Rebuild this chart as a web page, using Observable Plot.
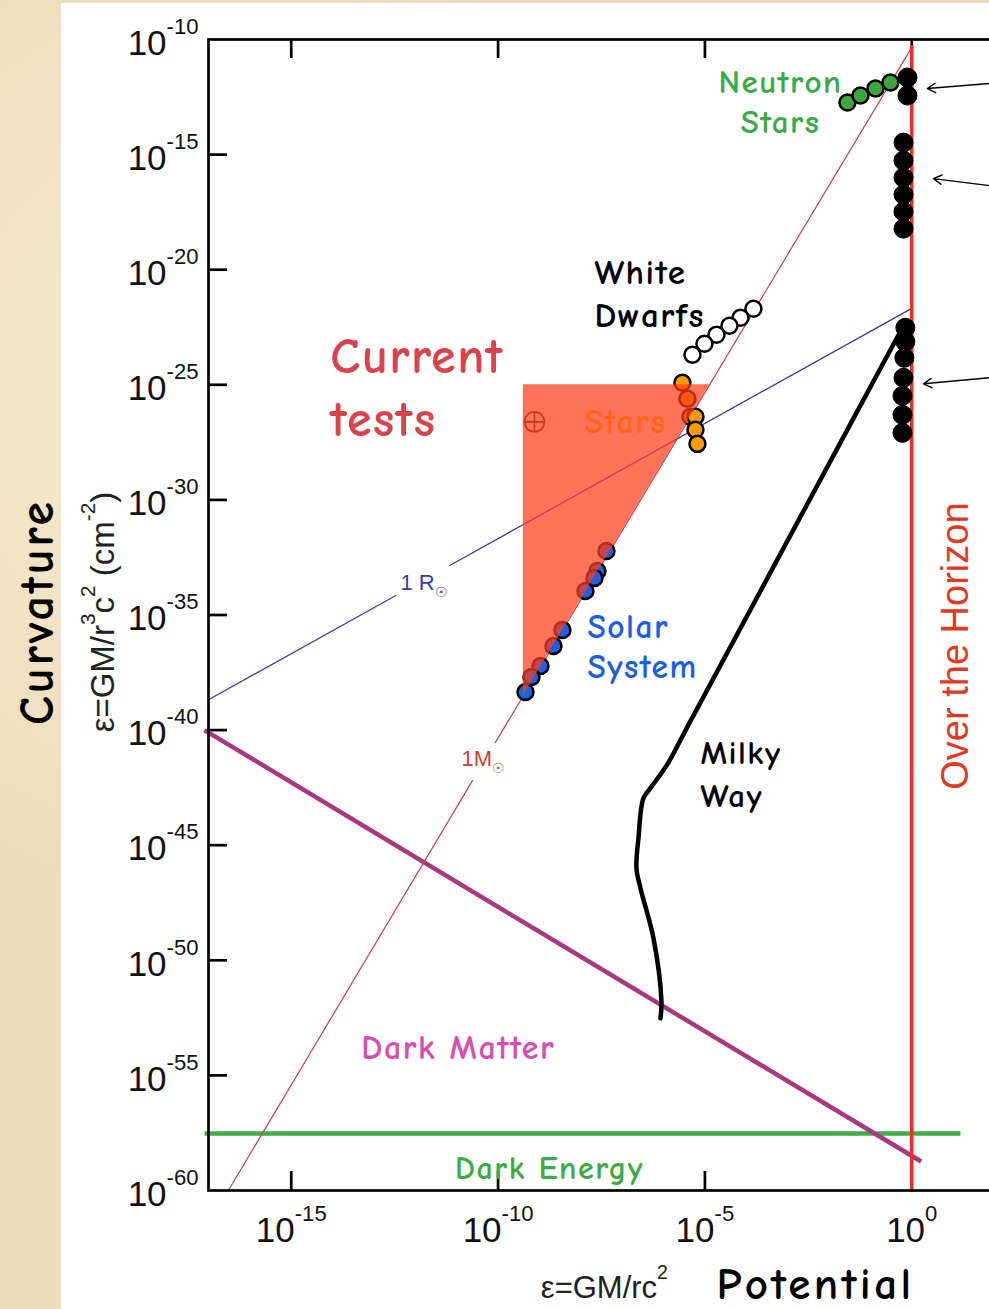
<!DOCTYPE html>
<html><head><meta charset="utf-8">
<script src="https://cdn.jsdelivr.net/npm/d3@7"></script>
<script src="https://cdn.jsdelivr.net/npm/@observablehq/plot@0.6"></script>
<style>
html,body{margin:0;padding:0;overflow:hidden;width:989px;height:1309px;background:#ecdcbb;}
body{background:
 radial-gradient(ellipse at 20% 30%, rgba(255,245,220,0.6), rgba(0,0,0,0) 40%),
 radial-gradient(ellipse at 60% 80%, rgba(210,190,150,0.35), rgba(0,0,0,0) 45%),
 #ecdcbb;}
#panel{position:absolute;left:61px;top:3px;width:928px;height:1306px;background:#fff;}
#chart{position:absolute;left:0;top:0;width:994px;}
#chart svg{max-width:none !important;}
</style></head><body>
<div id="panel"></div><div id="chart"></div>
<script>
// ---- data (log10 of potential ε, log10 of curvature ξ) ----
const xTicks = [1e-15, 1e-10, 1e-5, 1e0];
const xTickMarksBottom = [1e-15, 1e-10, 1e-5];
const yTicks = [1e-10, 1e-15, 1e-20, 1e-25, 1e-30, 1e-35, 1e-40, 1e-45, 1e-50, 1e-55, 1e-60];
const yTickMarks = [1e-15, 1e-20, 1e-25, 1e-30, 1e-35, 1e-40, 1e-45, 1e-50, 1e-55];

const neutronStars = [[-1.554,-12.739],[-1.240,-12.435],[-0.877,-12.130],[-0.515,-11.870]];
const horizonObjects = [
  [-0.104,-11.652],[-0.104,-12.435],
  [-0.200,-14.478],[-0.200,-15.261],[-0.200,-16.0],[-0.200,-16.739],[-0.200,-17.478],[-0.200,-18.217],
  [-0.155,-22.522],[-0.155,-23.130],[-0.179,-23.826],[-0.200,-24.696],[-0.225,-25.478],[-0.225,-26.304],[-0.225,-27.087]
];
const whiteDwarfs = [[-3.827,-21.696],[-4.141,-22.087],[-4.407,-22.435],[-4.721,-22.826],[-5.011,-23.217],[-5.301,-23.696]];
const stars = [[-5.544,-24.913],[-5.423,-25.609],[-5.350,-26.391],[-5.229,-26.391],[-5.229,-26.957],[-5.181,-27.565]];
const solarSystem = [[-7.380,-32.217],[-7.598,-33.087],[-7.670,-33.391],[-7.888,-33.957],[-8.444,-35.652],
  [-8.661,-36.348],[-8.975,-37.217],[-9.193,-37.696],[-9.338,-38.348]];
const milkyWay = [[-6.075,-52.522],[-6.051,-51.783],[-6.244,-49.043],[-6.558,-46.870],[-6.655,-46.0],
  [-6.607,-44.696],[-6.486,-42.957],[-6.317,-42.522],[-5.906,-41.478],[-5.350,-39.609],[-1.728,-27.522],[-0.200,-22.435]];
const solarMassLine = [[-16.52,-60,-10.611,-42.174],[-10.075,-40.565,0,-10.34]];
const solarRadiusLine = [[-17,-38.68,-12.46,-34.14],[-11.18,-32.86,0,-21.68]];
const darkMatter = [[-17.097,-40.0,0.227,-58.74]];
const darkEnergy = [[-17.097,-57.522,1.177,-57.522]];
const horizon = [[0,-10.25,0,-60]];
const currentTests = [[-9.39,-38.51,-25],[-4.887,-25,-25]]; // ε, lower ξ, upper ξ
const earth = [[-9.12,-26.61]];
const arrows = [[1.878,-11.913,0.377,-12.13],[1.878,-16.348,0.524,-16.043],[1.878,-24.696,0.283,-24.957]];

const comicLabels = [
  {t:"Neutron\nStars", e:-3.174, c:-12.626},
  {t:"White\nDwarfs", e:-7.670, c:-20.948},
  {t:"Current\ntests", e:-14.055, c:-24.970},
  {t:"Stars", e:-6.921, c:-26.613},
  {t:"Solar\nSystem", e:-7.840, c:-36.313},
  {t:"Milky\nWay", e:-5.108, c:-41.817},
  {t:"Dark Matter", e:-10.963, c:-53.800},
  {t:"Dark Energy", e:-8.758, c:-59.048},
  {t:"Curvature", e:-21.13, c:-34.87},
  {t:"Potential", e:-2.328, c:-64.07}
];
const plainLabels = [
  {t:"Over the Horizon", e:1.056, c:-36.35},
  {t:"ε=GM/r^{3}c^{2} (cm^{-2})", e:-19.53, c:-34.87},
  {t:"ε=GM/rc^{2}", e:-7.43, c:-64.22},
  {t:"1 R_{☉}", e:-12.36, c:-33.609},
  {t:"1M_{☉}", e:-10.885, c:-41.26}
];

// ---- helpers ----
const pt = ([e, c]) => ({x: 10 ** e, y: 10 ** c});
const seg = ([e1, c1, e2, c2]) => ({x1: 10 ** e1, y1: 10 ** c1, x2: 10 ** e2, y2: 10 ** c2});
const COMIC = "'Comic Sans MS', 'Comic Neue', Lato, 'Noto Sans', sans-serif";
const ARIAL = "'Liberation Sans', Arial, Helvetica, sans-serif";
const lab = (name, arr) => arr.filter(d => d.t === name).map(d => ({...d, x: 10 ** d.e, y: 10 ** d.c}));
function textMark(name, arr, opts) {
  return Plot.text(lab(name, arr), {x: "x", y: "y", text: "t", ...opts});
}
const expFormat = d => `10^{${Math.round(Math.log10(d))}}`;
const spacing = {}; // text -> letter spacing (px)
function comic(name, opts, ls = 1.5) {
  spacing[name] = ls;
  return textMark(name, comicLabels, {fontFamily: COMIC, fontWeight: "bold", ...opts});
}

const chart = Plot.plot({
  width: 994, height: 1309,
  marginLeft: 208, marginRight: 0, marginTop: 39, marginBottom: 119,
  style: {background: "transparent", overflow: "visible", maxWidth: "none"},
  x: {type: "log", domain: [1e-17, 1e2]},
  y: {type: "log", domain: [1e-60, 1e-10]},
  marks: [
    Plot.tickY(yTickMarks, {y: d => d, insetRight: 767, stroke: "black", strokeWidth: 2.7}),
    Plot.tickX(xTicks, {x: d => d, insetBottom: 1132, stroke: "black", strokeWidth: 2.7}),
    Plot.tickX(xTickMarksBottom, {x: d => d, insetTop: 1132, stroke: "black", strokeWidth: 2.7}),
    Plot.link(darkEnergy.map(seg), {x1: "x1", y1: "y1", x2: "x2", y2: "y2", stroke: "#41ad49", strokeWidth: 4.5}),
    Plot.link(darkMatter.map(seg), {x1: "x1", y1: "y1", x2: "x2", y2: "y2", stroke: "#a8387f", strokeWidth: 4.5}),
    Plot.link(solarMassLine.map(seg), {x1: "x1", y1: "y1", x2: "x2", y2: "y2", stroke: "#c8404e", strokeWidth: 1.2}),
    Plot.link(solarRadiusLine.map(seg), {x1: "x1", y1: "y1", x2: "x2", y2: "y2", stroke: "#3b3ba6", strokeWidth: 1.3}),
    Plot.link(horizon.map(seg), {x1: "x1", y1: "y1", x2: "x2", y2: "y2", stroke: "#e8341f", strokeWidth: 3.5}),
    Plot.line(milkyWay.map(pt), {x: "x", y: "y", curve: "catmull-rom", stroke: "black", strokeWidth: 4.5}),
    Plot.dot(horizonObjects.map(pt), {x: "x", y: "y", r: 9.5, fill: "black", stroke: "black", strokeWidth: 1}),
    Plot.dot(neutronStars.map(pt), {x: "x", y: "y", r: 8, fill: "#3fa63f", stroke: "black", strokeWidth: 2.5}),
    Plot.dot(whiteDwarfs.map(pt), {x: "x", y: "y", r: 8, fill: "white", stroke: "black", strokeWidth: 2.5}),
    Plot.dot(stars.map(pt), {x: "x", y: "y", r: 8, fill: "#ff9a00", stroke: "black", strokeWidth: 2.5}),
    Plot.dot(solarSystem.map(pt), {x: "x", y: "y", r: 8, fill: "#1f5fe0", stroke: "black", strokeWidth: 2.5}),
    Plot.dot(earth.map(pt), {x: "x", y: "y", r: 10, fill: "none", stroke: "#6a1818", strokeWidth: 1.6}),
    Plot.dot(earth.map(pt), {x: "x", y: "y", r: 6.5, symbol: "plus", stroke: "#6a1818", strokeWidth: 1.6}),
    Plot.areaY(currentTests.map(([e, lo, hi]) => ({x: 10 ** e, y1: 10 ** lo, y2: 10 ** hi})),
      {x: "x", y1: "y1", y2: "y2", fill: "#ff3d1a", fillOpacity: 0.72}),
    Plot.arrow(arrows.map(seg), {x1: "x1", y1: "y1", x2: "x2", y2: "y2", stroke: "black", strokeWidth: 1.4, headLength: 10}),
    comic("Neutron\nStars", {fill: "#3aaa46", fontSize: 33, lineHeight: 1.24}),
    comic("White\nDwarfs", {fill: "black", fontSize: 35, lineHeight: 1.24, textAnchor: "start"}),
    comic("Current\ntests", {fill: "#d9434b", fontSize: 50, lineHeight: 1.27, textAnchor: "start"}),
    comic("Stars", {fill: "#ff6412", fontSize: 34}),
    comic("Solar\nSystem", {fill: "#1c5ee0", fontSize: 33.5, lineHeight: 1.2, textAnchor: "start"}),
    comic("Milky\nWay", {fill: "black", fontSize: 33, lineHeight: 1.3, textAnchor: "start"}),
    comic("Dark Matter", {fill: "#d64fb0", fontSize: 34}),
    comic("Dark Energy", {fill: "#3daa46", fontSize: 32}),
    comic("Curvature", {fill: "black", fontSize: 48, rotate: -90}, 3),
    comic("Potential", {fill: "black", fontSize: 45}, 3.4),
    textMark("Over the Horizon", plainLabels, {fill: "#e03a24", fontSize: 38, rotate: -90, fontFamily: ARIAL}),
    textMark("ε=GM/r^{3}c^{2} (cm^{-2})", plainLabels, {fill: "#222", fontSize: 33, rotate: -90, fontFamily: ARIAL}),
    textMark("ε=GM/rc^{2}", plainLabels, {fill: "#222", fontSize: 31, fontFamily: ARIAL}),
    textMark("1 R_{☉}", plainLabels, {fill: "#3a3aa8", fontSize: 22, textAnchor: "start", fontFamily: ARIAL}),
    textMark("1M_{☉}", plainLabels, {fill: "#c8403c", fontSize: 22, textAnchor: "start", fontFamily: ARIAL}),
    Plot.frame({stroke: "black", strokeWidth: 2.7}),
    Plot.axisY({ticks: yTicks, anchor: "left", tickSize: 0, tickPadding: 10, dy: 4, tickFormat: expFormat,
      fontSize: 35, fontFamily: ARIAL, label: null, color: "#111"}),
    Plot.axisX({ticks: xTicks, anchor: "bottom", tickSize: 0, tickPadding: 27, tickFormat: expFormat,
      fontSize: 35, fontFamily: ARIAL, label: null, color: "#111"})
  ]
});
document.getElementById("chart").appendChild(chart);

// letter spacing to approximate the wide comic lettering
chart.querySelectorAll("text").forEach(t => {
  const key = Object.keys(spacing).find(k => k.replace(/\n/g, "") === t.textContent);
  if (key) t.setAttribute("letter-spacing", spacing[key]);
});

// superscript / subscript rendering for "^{..}" and "_{..}"
function richify(svg) {
  svg.querySelectorAll("text").forEach(t => {
    if (t.querySelector("tspan")) return;
    const s = t.textContent;
    if (!/[\^_]\{/.test(s)) return;
    const fs = parseFloat(getComputedStyle(t).fontSize);
    const re = /([\^_])\{([^}]*)\}|([^\^_]+)/g;
    t.textContent = "";
    let shift = 0, m;
    while ((m = re.exec(s))) {
      const ts = document.createElementNS("http://www.w3.org/2000/svg", "tspan");
      let target = 0;
      if (m[1]) {
        target = m[1] === "^" ? -0.6 * fs : 0.3 * fs;
        ts.setAttribute("font-size", (0.63 * fs).toFixed(1));
        ts.textContent = m[2];
      } else ts.textContent = m[3];
      if (target !== shift) { ts.setAttribute("dy", (target - shift).toFixed(1)); shift = target; }
      t.appendChild(ts);
    }
  });
}
richify(chart);
</script></body></html>
